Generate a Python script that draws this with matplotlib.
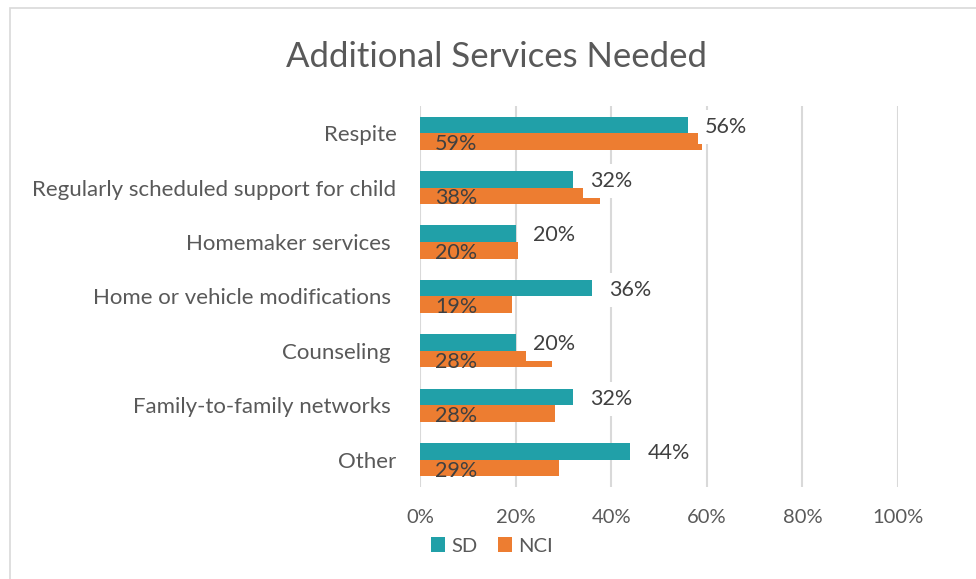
import numpy as np
import matplotlib
matplotlib.use('Agg')
import matplotlib.pyplot as plt
from matplotlib.patches import Rectangle

plt.rcParams['font.family'] = ['Lato', 'DejaVu Sans']

# data
categories = ['Respite', 'Regularly scheduled support for child', 'Homemaker services ',
              'Home or vehicle modifications ', 'Counseling ', 'Family-to-family networks ', 'Other']
sd_values = [0.56, 0.32, 0.20, 0.36, 0.20, 0.32, 0.44]
nci_values = [0.59, 0.377, 0.205, 0.192, 0.276, 0.282, 0.29]
nci_labels = ['59%', '38%', '20%', '19%', '28%', '28%', '29%']
sd_labels = ['56%', '32%', '20%', '36%', '20%', '32%', '44%']
ticks = [0, 0.2, 0.4, 0.6, 0.8, 1.0]
tick_labels = ['0%', '20%', '40%', '60%', '80%', '100%']

sd_color = '#21A0A8'
nci_color = '#ED7D31'

fig = plt.figure(figsize=(9.76, 5.79), dpi=100)
# outer chart border (right/bottom edges fall outside the image)
fig.patches.append(Rectangle((10 / 976, -0.1), 1.2, 1.1 - 8 / 579, transform=fig.transFigure,
                             fill=False, edgecolor='#D9D9D9', linewidth=1.2))

ax = fig.add_axes([420 / 976, 0.159, 478 / 976, 0.658])
y = np.arange(len(categories))
h = 0.305

ax.barh(y - h / 2, sd_values, height=h, color=sd_color, label='SD', zorder=2)
ax.barh(y + h / 2, nci_values, height=h, color=nci_color, label='NCI', zorder=2)

for i in range(len(categories)):
    ax.text(sd_values[i] + 0.036, y[i] - 0.12, sd_labels[i], ha='left', va='center',
            fontsize=15.5, color='#404040', zorder=4,
            bbox=dict(facecolor='white', edgecolor='none', pad=5))
    ax.text(0.031, y[i] + 0.2, nci_labels[i], ha='left', va='center',
            fontsize=15.5, color='#404040', zorder=4)

ax.set_xlim(0, 1.0)
ax.set_ylim(len(categories) - 0.5, -0.5)
ax.set_xticks(ticks)
ax.set_xticklabels(tick_labels)
ax.set_yticks(y)
ax.set_yticklabels(categories)
ax.tick_params(axis='x', length=0, labelsize=14.5, labelcolor='#595959', pad=16)
ax.tick_params(axis='y', length=0, labelsize=16, labelcolor='#595959', pad=17)
for s in ax.spines.values():
    s.set_visible(False)
ax.grid(axis='x', color='#D9D9D9', linewidth=1.5, zorder=0)
ax.set_axisbelow(True)

fig.text(497 / 976, 1 - 57 / 579, 'Additional Services Needed', ha='center', va='center',
         fontsize=25, color='#595959')

fig.legend(loc='center', bbox_to_anchor=(492 / 976, 1 - 546 / 579), ncol=2, frameon=False,
           fontsize=14.5, labelcolor='#595959', handlelength=0.7, handleheight=0.7,
           handletextpad=0.3, columnspacing=1.0)

fig.savefig('out.png', dpi=100)
